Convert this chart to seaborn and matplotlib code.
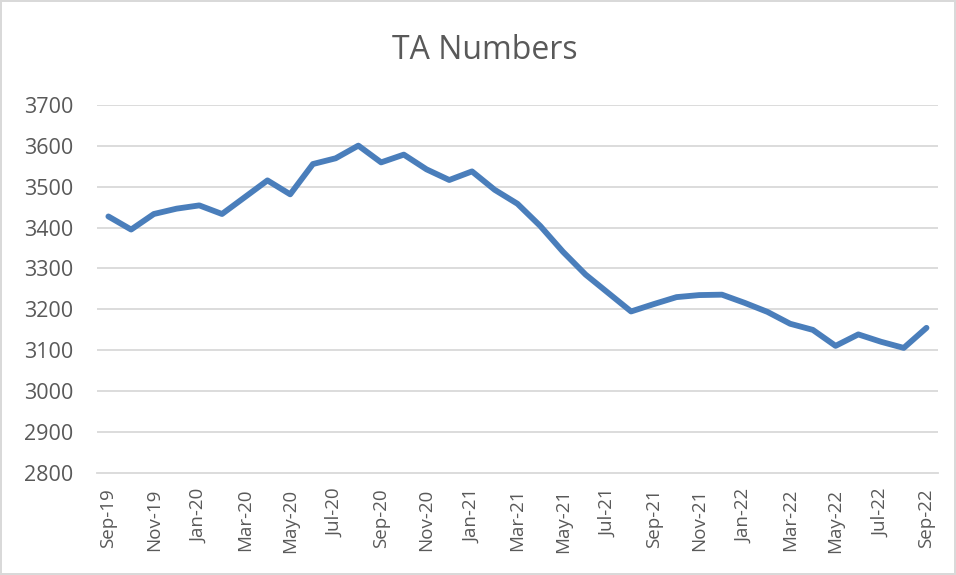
import matplotlib
matplotlib.use("Agg")
import matplotlib.pyplot as plt
import seaborn as sns
import pandas as pd

months = ["Sep-19", "Oct-19", "Nov-19", "Dec-19", "Jan-20", "Feb-20", "Mar-20",
          "Apr-20", "May-20", "Jun-20", "Jul-20", "Aug-20", "Sep-20", "Oct-20",
          "Nov-20", "Dec-20", "Jan-21", "Feb-21", "Mar-21", "Apr-21", "May-21",
          "Jun-21", "Jul-21", "Aug-21", "Sep-21", "Oct-21", "Nov-21", "Dec-21",
          "Jan-22", "Feb-22", "Mar-22", "Apr-22", "May-22", "Jun-22", "Jul-22",
          "Aug-22", "Sep-22"]
ta_numbers = [3427, 3395, 3433, 3446, 3454, 3433, 3474,
              3515, 3481, 3555, 3569, 3600, 3559, 3578,
              3542, 3516, 3537, 3492, 3458, 3404, 3341,
              3285, 3240, 3195, 3213, 3230, 3235, 3236,
              3216, 3194, 3165, 3150, 3111, 3139, 3121,
              3106, 3155]
y_ticks = [2800, 2900, 3000, 3100, 3200, 3300, 3400, 3500, 3600, 3700]

df = pd.DataFrame({"idx": range(len(months)), "month": months, "value": ta_numbers})

sns.set_style("white")
plt.rcParams["font.family"] = ["Open Sans", "DejaVu Sans"]

text_grey = "#595959"
grid_grey = "#D9D9D9"

fig = plt.figure(figsize=(9.56, 5.75), dpi=100, edgecolor=grid_grey, linewidth=1.5)
ax = fig.add_axes([0.1015, 0.177, 0.8795, 0.641])

for yv in y_ticks[1:]:
    ax.axhline(yv, color=grid_grey, linewidth=1.3, zorder=0)

sns.lineplot(data=df, x="idx", y="value", color="#4A7EBB", linewidth=4.2,
             solid_capstyle="round", solid_joinstyle="round", ax=ax)

ax.set_xlim(-0.5, len(months) - 0.5)
ax.set_ylim(2800, 3700)
ax.set_yticks(y_ticks)
ax.set_yticklabels([str(v) for v in y_ticks], fontsize=15.5, color=text_grey)

# labels every two months, tick marks between categories
label_pos = list(range(0, len(months), 2))
ax.set_xticks(label_pos)
ax.set_xticklabels([months[i] for i in label_pos], rotation=90, fontsize=13.5, color=text_grey)
ax.set_xticks([i - 0.5 for i in label_pos], minor=True)
ax.tick_params(axis="x", which="major", length=0, pad=11)
ax.tick_params(axis="x", which="minor", length=5, color=grid_grey, width=1.3, direction="out")
ax.tick_params(axis="y", length=0, pad=17)

for side in ["top", "right", "left"]:
    ax.spines[side].set_visible(False)
ax.spines["bottom"].set_color(grid_grey)
ax.spines["bottom"].set_linewidth(1.3)

ax.set_xlabel("")
ax.set_ylabel("")
fig.text(0.507, 0.912, "TA Numbers", ha="center", va="center", fontsize=23, color=text_grey)

fig.savefig("out.png", dpi=100)
